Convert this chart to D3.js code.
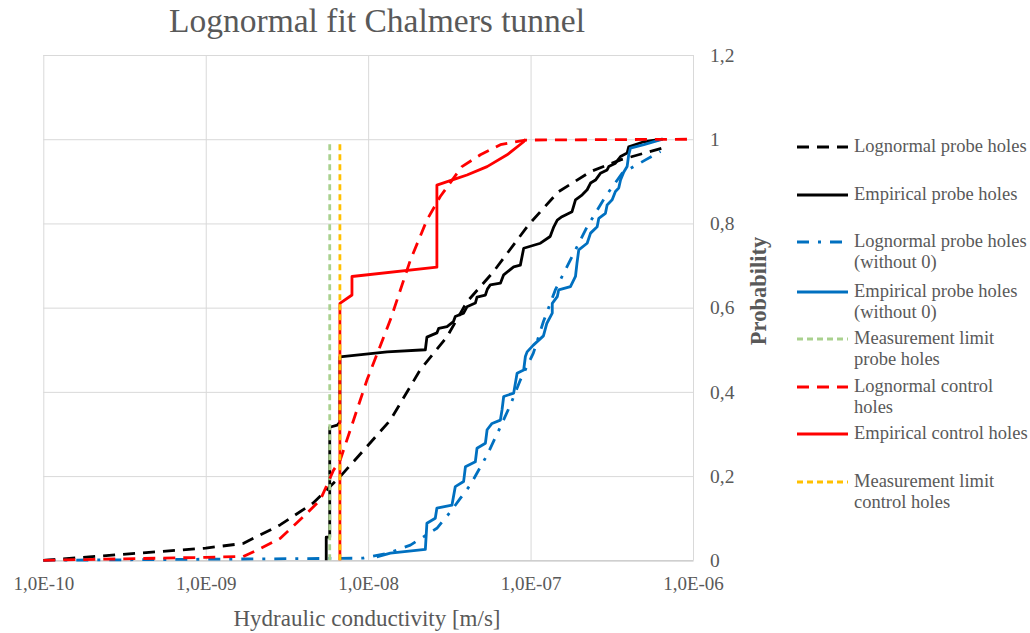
<!DOCTYPE html>
<html>
<head>
<meta charset="utf-8">
<script src="https://cdn.jsdelivr.net/npm/d3@7/dist/d3.min.js"></script>
<style>
  html, body { margin: 0; padding: 0; background: #fff; }
</style>
</head>
<body>
<svg id="chart" width="1030" height="633"></svg>
<script>
'use strict';

// Points are [hydraulic conductivity (m/s), cumulative probability].
const lognormalProbe = [
  [1e-10, 0], [1e-9, 0.029], [1.70e-9, 0.040], [2.87e-9, 0.084], [4.59e-9, 0.136],
  [6.73e-9, 0.199], [9.83e-9, 0.270], [1.37e-8, 0.333], [2.09e-8, 0.452], [3.06e-8, 0.531],
  [4.06e-8, 0.614], [5.90e-8, 0.685], [9.69e-8, 0.796], [1.48e-7, 0.875], [2.34e-7, 0.923],
  [3.58e-7, 0.951], [6.46e-7, 0.979]
];

const empiricalProbe = [
  [5.52e-9, 0], [5.52e-9, 0.055], [5.80e-9, 0.055], [5.80e-9, 0.316], [6.45e-9, 0.321],
  [6.70e-9, 0.328], [6.70e-9, 0.483], [1.31e-8, 0.495], [2.25e-8, 0.500], [2.30e-8, 0.530],
  [2.65e-8, 0.540], [2.72e-8, 0.551], [3.06e-8, 0.555], [3.35e-8, 0.567], [3.44e-8, 0.579],
  [3.87e-8, 0.587], [4.06e-8, 0.602], [4.57e-8, 0.611], [4.68e-8, 0.625], [5.27e-8, 0.630],
  [5.42e-8, 0.644], [5.65e-8, 0.654], [6.52e-8, 0.658], [6.83e-8, 0.678], [7.87e-8, 0.697],
  [8.65e-8, 0.701], [9.07e-8, 0.741], [1.15e-7, 0.753], [1.32e-7, 0.769], [1.39e-7, 0.792],
  [1.46e-7, 0.808], [1.56e-7, 0.816], [1.80e-7, 0.828], [1.89e-7, 0.856], [2.08e-7, 0.868],
  [2.23e-7, 0.880], [2.34e-7, 0.896], [2.51e-7, 0.903], [2.69e-7, 0.919], [2.96e-7, 0.927],
  [3.03e-7, 0.935], [3.33e-7, 0.943], [3.58e-7, 0.959], [3.93e-7, 0.967], [4.02e-7, 0.982],
  [4.98e-7, 0.994], [6.50e-7, 1.0]
];

const lognormalProbeNoZero = [
  [1e-10, 0], [9.33e-9, 0.005], [1.33e-8, 0.017], [1.82e-8, 0.036], [2.65e-8, 0.076],
  [3.21e-8, 0.115], [3.69e-8, 0.147], [4.26e-8, 0.179], [5.40e-8, 0.250], [6.67e-8, 0.325],
  [7.51e-8, 0.369], [8.65e-8, 0.428], [1.04e-7, 0.492], [1.20e-7, 0.567], [1.42e-7, 0.642],
  [1.80e-7, 0.721], [2.23e-7, 0.792], [2.89e-7, 0.864], [3.66e-7, 0.919], [5.10e-7, 0.951],
  [6.31e-7, 0.971]
];

const empiricalProbeNoZero = [
  [1.13e-8, 0.008], [1.37e-8, 0.017], [2.25e-8, 0.026], [2.30e-8, 0.088], [2.59e-8, 0.100],
  [2.65e-8, 0.124], [3.28e-8, 0.131], [3.44e-8, 0.175], [3.87e-8, 0.187], [3.97e-8, 0.222],
  [4.57e-8, 0.234], [4.68e-8, 0.266], [5.27e-8, 0.278], [5.40e-8, 0.310], [5.79e-8, 0.325],
  [6.52e-8, 0.333], [6.67e-8, 0.357], [6.83e-8, 0.389], [7.87e-8, 0.397], [8.26e-8, 0.444],
  [9.07e-8, 0.452], [9.29e-8, 0.484], [9.52e-8, 0.495], [1.04e-7, 0.511], [1.20e-7, 0.533],
  [1.26e-7, 0.563], [1.36e-7, 0.587], [1.36e-7, 0.610], [1.46e-7, 0.626], [1.49e-7, 0.642],
  [1.76e-7, 0.650], [1.89e-7, 0.674], [1.93e-7, 0.705], [1.98e-7, 0.737], [2.23e-7, 0.753],
  [2.34e-7, 0.777], [2.57e-7, 0.792], [2.63e-7, 0.812], [2.89e-7, 0.824], [2.96e-7, 0.844],
  [3.18e-7, 0.856], [3.33e-7, 0.876], [3.49e-7, 0.884], [3.58e-7, 0.903], [3.75e-7, 0.922],
  [3.93e-7, 0.935], [4.02e-7, 0.963], [4.12e-7, 0.979], [4.98e-7, 0.987], [6.50e-7, 1.0]
];

const limitProbe = [[5.80e-9, 0], [5.80e-9, 0.99]];

const lognormalControl = [
  [1e-10, 0], [1e-9, 0.007], [1.70e-9, 0.009], [2.07e-9, 0.024], [2.87e-9, 0.052],
  [4.00e-9, 0.104], [5.07e-9, 0.143], [6.12e-9, 0.214], [6.73e-9, 0.238], [9.83e-9, 0.428],
  [1.37e-8, 0.571], [1.82e-8, 0.713], [2.30e-8, 0.808], [2.78e-8, 0.864], [3.78e-8, 0.935],
  [4.91e-8, 0.963], [6.52e-8, 0.987], [9.29e-8, 0.998], [1e-6, 1.0]
];

const empiricalControl = [
  [6.70e-9, 0], [6.70e-9, 0.610], [7.95e-9, 0.630], [7.95e-9, 0.674], [2.65e-8, 0.696],
  [2.65e-8, 0.891], [3.52e-8, 0.907], [4.06e-8, 0.915], [5.40e-8, 0.935], [7.17e-8, 0.963],
  [9.07e-8, 0.994], [9.30e-8, 1.0]
];

const limitControl = [[6.70e-9, 0], [6.70e-9, 0.99]];

const xTicks = [1e-10, 1e-9, 1e-8, 1e-7, 1e-6];
const xTickLabels = ['1,0E-10', '1,0E-09', '1,0E-08', '1,0E-07', '1,0E-06'];
const yTicks = [0, 0.2, 0.4, 0.6, 0.8, 1, 1.2];
const yTickLabels = ['0', '0,2', '0,4', '0,6', '0,8', '1', '1,2'];

const legendLabels = [
  ['Lognormal probe holes'],
  ['Empirical probe holes'],
  ['Lognormal probe holes', '(without 0)'],
  ['Empirical probe holes', '(without 0)'],
  ['Measurement limit', 'probe holes'],
  ['Lognormal control', 'holes'],
  ['Empirical control holes'],
  ['Measurement limit', 'control holes']
];

// Styles per series, in legend (and drawing) order.
const series = [
  { data: lognormalProbe, color: '#000000', dash: '12,8' },
  { data: empiricalProbe, color: '#000000', dash: null },
  { data: lognormalProbeNoZero, color: '#0070C0', dash: '12,9,3,9' },
  { data: empiricalProbeNoZero, color: '#0070C0', dash: null },
  { data: limitProbe, color: '#A9D18E', dash: '6,4' },
  { data: lognormalControl, color: '#FF0000', dash: '12,8' },
  { data: empiricalControl, color: '#FF0000', dash: null },
  { data: limitControl, color: '#FFC000', dash: '6,4' }
];

const legendY = [147, 195, 242, 292, 339, 387, 434, 482];

const textColor = '#595959';
const serif = "'Liberation Serif', 'DejaVu Serif', 'Times New Roman', Times, serif";
const svg = d3.select('#chart').attr('font-family', serif);
const plot = { left: 43.3, right: 693, top: 55, bottom: 560.3 };

const x = d3.scaleLog().domain([1e-10, 1e-6]).range([plot.left, plot.right]);
const y = d3.scaleLinear().domain([0, 1.2]).range([plot.bottom, plot.top]);

// Gridlines
svg.append('g')
  .attr('transform', `translate(0,${plot.bottom})`)
  .call(d3.axisBottom(x).tickValues(xTicks).tickSize(-(plot.bottom - plot.top)).tickFormat(''))
  .call(g => g.select('.domain').remove())
  .call(g => g.selectAll('line').attr('stroke', '#D9D9D9').attr('stroke-width', 1));

svg.append('g')
  .attr('transform', `translate(${plot.left},0)`)
  .call(d3.axisLeft(y).tickValues(yTicks.slice(1)).tickSize(-(plot.right - plot.left)).tickFormat(''))
  .call(g => g.select('.domain').remove())
  .call(g => g.selectAll('line').attr('stroke', '#D9D9D9').attr('stroke-width', 1));

// Bottom axis with labels
svg.append('g')
  .attr('transform', `translate(0,${plot.bottom})`)
  .call(d3.axisBottom(x).tickValues(xTicks).tickSize(0).tickPadding(16)
    .tickFormat((d, i) => xTickLabels[i]))
  .attr('font-family', serif)
  .attr('font-size', 19)
  .call(g => g.select('.domain').attr('stroke', '#BFBFBF').attr('stroke-width', 1.3))
  .call(g => g.selectAll('text').attr('fill', textColor));

// Right axis labels
svg.append('g')
  .attr('transform', `translate(${plot.right},0)`)
  .call(d3.axisRight(y).tickValues(yTicks).tickSize(0).tickPadding(17)
    .tickFormat((d, i) => yTickLabels[i]))
  .attr('font-family', serif)
  .attr('font-size', 19.5)
  .call(g => g.select('.domain').remove())
  .call(g => g.selectAll('text').attr('fill', textColor));

// Series
const line = d3.line().x(d => x(d[0])).y(d => y(d[1]));

svg.append('g')
  .selectAll('path')
  .data(series)
  .join('path')
  .attr('d', d => line(d.data))
  .attr('fill', 'none')
  .attr('stroke', d => d.color)
  .attr('stroke-width', 2.8)
  .attr('stroke-linejoin', 'round')
  .attr('stroke-dasharray', d => d.dash);

// Title and axis titles
svg.append('text')
  .attr('x', 377).attr('y', 32)
  .attr('text-anchor', 'middle')
  .attr('font-size', 33.5)
  .attr('fill', textColor)
  .text('Lognormal fit Chalmers tunnel');

svg.append('text')
  .attr('x', 367).attr('y', 626)
  .attr('text-anchor', 'middle')
  .attr('font-size', 23)
  .attr('fill', textColor)
  .text('Hydraulic conductivity [m/s]');

svg.append('text')
  .attr('transform', 'translate(766,291) rotate(-90)')
  .attr('text-anchor', 'middle')
  .attr('font-size', 22.5)
  .attr('font-weight', 'bold')
  .attr('fill', textColor)
  .text('Probability');

// Legend
const legend = svg.append('g')
  .selectAll('g')
  .data(series)
  .join('g')
  .attr('transform', (d, i) => `translate(797,${legendY[i]})`);

legend.append('line')
  .attr('x1', 0).attr('x2', 51)
  .attr('stroke', d => d.color)
  .attr('stroke-width', 2.8)
  .attr('stroke-dasharray', d => d.dash);

legend.append('text')
  .attr('x', 57)
  .attr('font-size', 18.5)
  .attr('fill', textColor)
  .selectAll('tspan')
  .data((d, i) => legendLabels[i])
  .join('tspan')
  .attr('x', 57)
  .attr('y', (d, j) => 5 + j * 21)
  .text(d => d);
</script>
</body>
</html>
